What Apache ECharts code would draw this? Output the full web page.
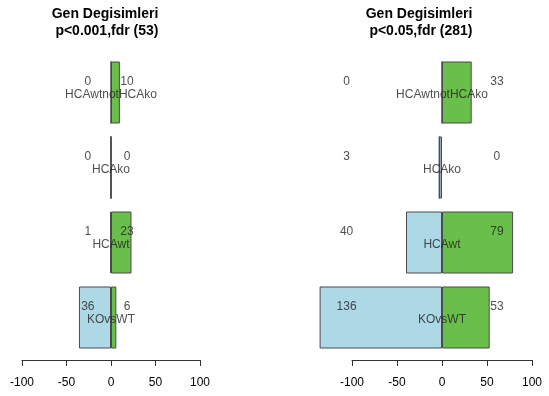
<!DOCTYPE html>
<html>
<head>
<meta charset="utf-8">
<script src="https://cdn.jsdelivr.net/npm/echarts@6/dist/echarts.min.js"></script>
<style>
  html, body { margin: 0; padding: 0; background: #fff; }
  #chart { width: 549px; height: 396px; }
</style>
</head>
<body>
<div id="chart"></div>
<script>
// Gene-change counts per comparison: down (negative side) and up (positive side)
const categories = ['HCAwtnotHCAko', 'HCAko', 'HCAwt', 'KOvsWT'];

const downStrict = [0, 0, 1, 36];     // p<0.001, fdr
const upStrict   = [10, 0, 23, 6];
const downLoose  = [0, 3, 40, 136];   // p<0.05, fdr
const upLoose    = [33, 0, 79, 53];

const titleStrict = 'Gen Degisimleri\n p<0.001,fdr (53)';
const titleLoose  = 'Gen Degisimleri\n p<0.05,fdr (281)';

const tickMin = -100, tickMax = 100, tickStep = 50;

const BLUE = '#ADD8E6';
const GREEN = '#6ABF4B';
const EDGE = '#4a4a4a';
const FONT = 'Liberation Sans, Arial, sans-serif';

const panels = [
  { title: titleStrict, down: downStrict, up: upStrict, left: 22, width: 178, titleX: 100, countX: [-26, 18] },
  { title: titleLoose,  down: downLoose,  up: upLoose,  left: 352, width: 180, titleX: 414, countX: [-106, 61] }
];

const option = {
  animation: false,
  backgroundColor: '#fff',
  title: [],
  grid: [],
  xAxis: [],
  yAxis: [],
  series: []
};

panels.forEach((p, i) => {
  option.title.push({
    text: p.title,
    left: p.titleX,
    top: 1,
    textAlign: 'center',
    textStyle: { fontFamily: FONT, fontSize: 14, fontWeight: 'bold', color: '#000', lineHeight: 17 }
  });
  option.grid.push({ left: p.left, width: p.width, top: 55, height: 300 });
  option.xAxis.push({
    type: 'value', gridIndex: i, min: tickMin, max: tickMax, interval: tickStep,
    position: 'bottom', offset: 5,
    axisLine: { show: true, lineStyle: { color: '#333', width: 1 } },
    axisTick: { show: true, length: 6, lineStyle: { color: '#333' } },
    axisLabel: { fontFamily: FONT, fontSize: 12, color: '#000', margin: 17 },
    splitLine: { show: false }
  });
  option.yAxis.push({
    type: 'category', gridIndex: i, data: categories, inverse: true,
    axisLine: { show: false }, axisTick: { show: false }, axisLabel: { show: false }
  });

  const stack = 'st' + i;
  option.series.push({
    type: 'bar', xAxisIndex: i, yAxisIndex: i, stack: stack, clip: false,
    barWidth: 62,
    data: p.down.map(v => -v),
    itemStyle: { color: BLUE, borderColor: EDGE, borderWidth: 1 },
    z: 2
  });
  option.series.push({
    type: 'bar', xAxisIndex: i, yAxisIndex: i, stack: stack, clip: false,
    barWidth: 62,
    data: p.up,
    itemStyle: { color: GREEN, borderColor: EDGE, borderWidth: 1 },
    z: 2
  });

  // count labels on each side and the comparison name in the middle
  const labelData = [];
  categories.forEach((c, k) => {
    labelData.push({ value: [p.countX[0], k], txt: String(p.down[k]), dy: -11 });
    labelData.push({ value: [p.countX[1], k], txt: String(p.up[k]), dy: -11 });
    labelData.push({ value: [0, k], txt: c, dy: 2 });
  });
  option.series.push({
    type: 'scatter', xAxisIndex: i, yAxisIndex: i, symbolSize: 0, clip: false, z: 5,
    silent: true,
    data: labelData.map(d => ({
      value: d.value,
      label: {
        show: true, position: 'inside', offset: [0, d.dy],
        formatter: d.txt, fontFamily: FONT, fontSize: 12, color: '#222'
      }
    }))
  });
});

const chart = echarts.init(document.getElementById('chart'), null, { renderer: 'canvas' });
chart.setOption(option);
</script>
</body>
</html>
